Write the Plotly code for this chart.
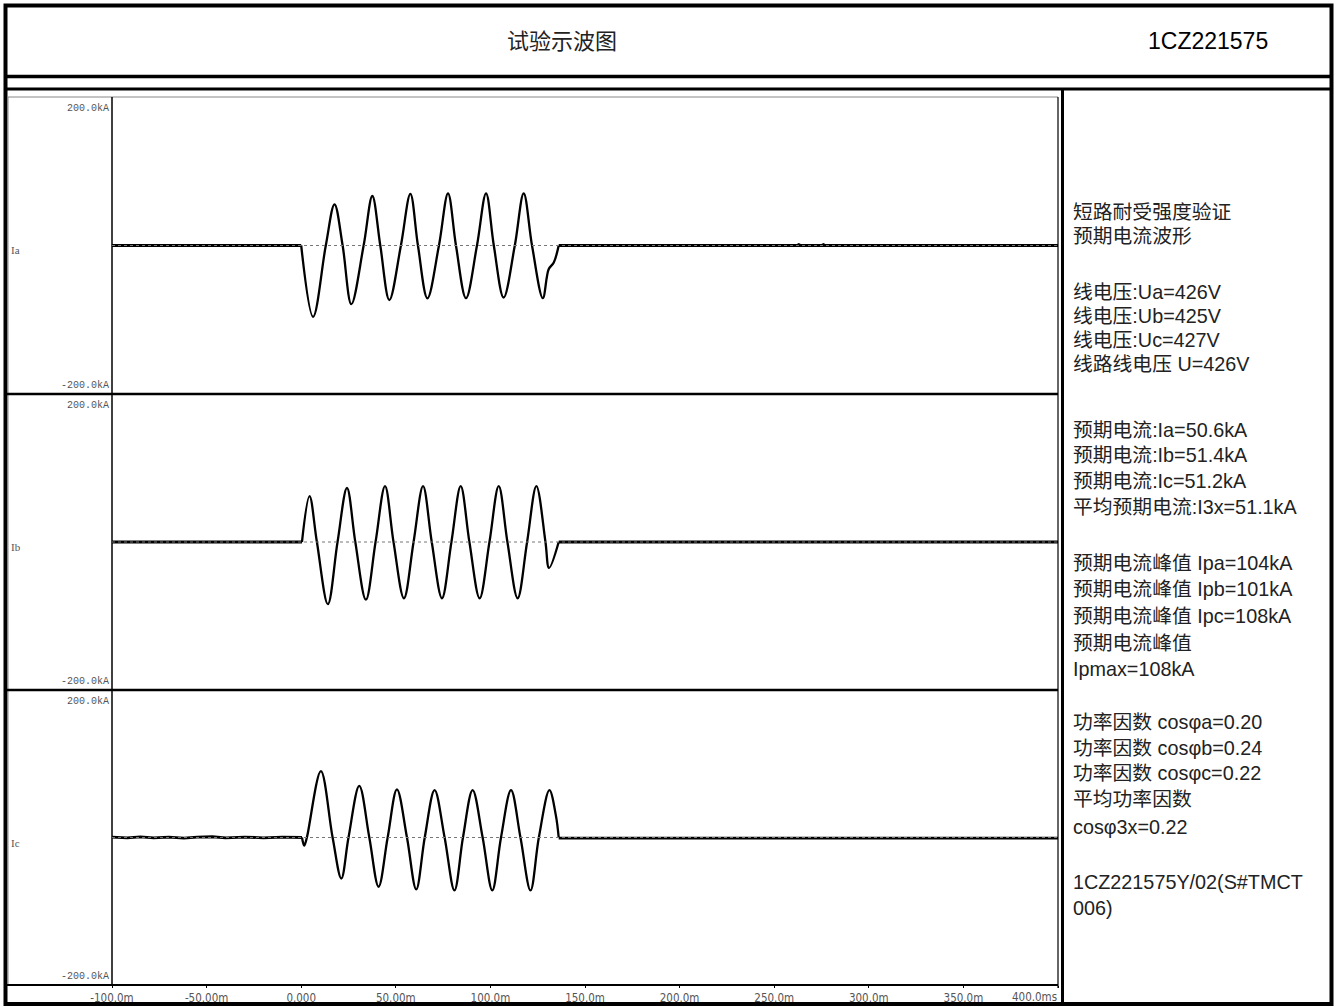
import plotly.graph_objects as go

W, H = 1336, 1007

# ---- data (time in ms, current in kA) ----
time_ticks = [-100, -50, 0, 50, 100, 150, 200, 250, 300, 350, 400]
time_tick_labels = ["-100.0m", "-50.00m", "0.000", "50.00m", "100.0m", "150.0m",
                    "200.0m", "250.0m", "300.0m", "350.0m", "400.0ms"]

phase_names = ["Ia", "Ib", "Ic"]
range_labels = ["200.0kA", "-200.0kA"]

# Ia
ia_pre_t = [-100, 0]
ia_pre_v = [0, 0]
ia_t = [0, 6.3, 13.0, 17.6, 21.9, 26.5, 33.0, 37.6, 41.8, 46.6, 52.7, 57.7, 61.7, 66.7,
        72.8, 77.6, 81.8, 87.1, 92.9, 97.7, 101.8, 107.0, 112.9, 117.6, 122.0, 127.7,
        130.8, 133.5, 136.1]
ia_v = [0, -96, 0, 55.5, 0, -79, 0, 66.7, 0, -73.4, 0, 69.4, 0, -71.1,
        0, 70.3, 0, -71.0, 0, 70.3, 0, -70.0, 0, 70.3, 0, -71.0,
        -32, -23, 0]
ia_post_t = [136.1, 262, 263, 264, 275, 276, 277, 400]
ia_post_v = [0, 0, 1.3, 0, 0, 1.3, 0, 0]

# Ib
ib_pre_t = [-100, -52, -51, -50, 0.4]
ib_pre_v = [0, 0, 0.8, 0, 0]
ib_t = [0.4, 4.4, 8.3, 14.1, 19.2, 24.2, 28.6, 34.2, 39.3, 44.3, 48.8, 54.3, 59.4, 64.4,
        69.0, 74.4, 79.4, 84.3, 88.9, 94.3, 99.5, 104.4, 109.0, 114.4, 119.4, 124.3,
        129.1, 131.0, 136.1]
ib_v = [0, 62, 0, -84, 0, 73, 0, -78, 0, 75.5, 0, -76, 0, 75.5,
        0, -76, 0, 75.5, 0, -76, 0, 75.5, 0, -76, 0, 75.5,
        0, -35, 0]
ib_post_t = [136.1, 400]
ib_post_v = [0, 0]

# Ic
ic_pre_t = [-100, -92, -85, -78, -70, -62, -55, -47, -40, -30, -20, -10, 0.4]
ic_pre_v = [0.5, -0.6, 0.8, -0.4, 0.6, -0.8, 0.4, 1.0, -0.5, 0.6, -0.4, 0.5, 0]
ic_t = [0.4, 1.6, 3.0, 10.4, 16.6, 21.2, 25.0, 30.7, 36.0, 40.9, 45.7, 50.6, 55.9, 60.8,
        65.3, 70.5, 75.8, 81.0, 85.5, 90.6, 95.9, 101.0, 105.6, 110.9, 115.9, 121.2,
        125.6, 131.2, 134.6, 136.1]
ic_v = [0, -11, 0, 90, 0, -55.6, 0, 70, 0, -66.8, 0, 65.2, 0, -70.4,
        0, 64.2, 0, -71.8, 0, 64.2, 0, -71.8, 0, 64.2, 0, -71.8,
        0, 64.2, 30, 0]
ic_post_t = [136.1, 400]
ic_post_v = [-0.8, -0.8]

info_lines = [
    "短路耐受强度验证", "预期电流波形",
    "线电压:Ua=426V", "线电压:Ub=425V", "线电压:Uc=427V", "线路线电压 U=426V",
    "预期电流:Ia=50.6kA", "预期电流:Ib=51.4kA", "预期电流:Ic=51.2kA", "平均预期电流:I3x=51.1kA",
    "预期电流峰值 Ipa=104kA", "预期电流峰值 Ipb=101kA", "预期电流峰值 Ipc=108kA", "预期电流峰值",
    "Ipmax=108kA",
    "功率因数 cosφa=0.20", "功率因数 cosφb=0.24", "功率因数 cosφc=0.22", "平均功率因数",
    "cosφ3x=0.22",
    "1CZ221575Y/02(S#TMCT", "006)",
]

# ---- layout geometry (pixels) ----
info_y = [212, 236, 292, 316, 340, 364, 430, 455, 481, 507, 563, 589, 616, 643, 669,
          722, 748, 773, 799, 827, 882, 908]
panels = [(97, 394), (394, 690), (690, 985)]
plot_left, plot_right = 112, 1058


def px(x):
    return x / W


def py(y):
    return 1 - y / H


fig = go.Figure()

series = [
    (ia_pre_t, ia_pre_v, ia_t, ia_v, ia_post_t, ia_post_v),
    (ib_pre_t, ib_pre_v, ib_t, ib_v, ib_post_t, ib_post_v),
    (ic_pre_t, ic_pre_v, ic_t, ic_v, ic_post_t, ic_post_v),
]
axis_ids = [("x2", "y"), ("x3", "y2"), ("x", "y3")]

for (pre_t, pre_v, t, v, post_t, post_v), (xa, ya) in zip(series, axis_ids):
    fig.add_trace(go.Scatter(x=pre_t, y=pre_v, mode="lines", xaxis=xa, yaxis=ya,
                             line=dict(color="black", width=2.8), hoverinfo="skip"))
    fig.add_trace(go.Scatter(x=t, y=v, mode="lines", xaxis=xa, yaxis=ya,
                             line=dict(color="black", width=2.3, shape="spline", smoothing=1.0),
                             hoverinfo="skip"))
    fig.add_trace(go.Scatter(x=post_t, y=post_v, mode="lines", xaxis=xa, yaxis=ya,
                             line=dict(color="black", width=2.8), hoverinfo="skip"))

xdom = [px(plot_left), px(plot_right)]
ydoms = [[py(b), py(t)] for t, b in panels]

hidden_x = dict(domain=xdom, range=[-100, 400], showticklabels=False, ticks="",
                showgrid=False, zeroline=False, showline=False, matches="x")
hidden_y = dict(range=[-200, 200], showticklabels=False, ticks="", showgrid=False,
                zeroline=False, showline=False)

# the last tick label sits inside the frame, so it is written separately below
axis_ticktext = time_tick_labels[:-1] + [""]

tick_font = dict(family="Liberation Sans Narrow, DejaVu Sans Condensed, Liberation Mono",
                 size=11.5, color="#555")

fig.update_layout(
    width=W, height=H,
    margin=dict(l=0, r=0, t=0, b=0, pad=0, autoexpand=False),
    paper_bgcolor="white", plot_bgcolor="rgba(0,0,0,0)",
    showlegend=False,
    xaxis=dict(domain=xdom, range=[-100, 400], anchor="y3",
               tickvals=time_ticks, ticktext=axis_ticktext,
               ticks="outside", ticklen=2, tickcolor="black", tickwidth=1,
               tickfont=tick_font,
               showgrid=False, zeroline=False, showline=False, automargin=False),
    xaxis2=dict(hidden_x, anchor="y"),
    xaxis3=dict(hidden_x, anchor="y2"),
    yaxis=dict(hidden_y, domain=ydoms[0], anchor="x2"),
    yaxis2=dict(hidden_y, domain=ydoms[1], anchor="x3"),
    yaxis3=dict(hidden_y, domain=ydoms[2], anchor="x"),
)

shapes = []


def hline(y, x0, x1, width, color="black", dash="solid"):
    shapes.append(dict(type="line", xref="paper", yref="paper", x0=px(x0), x1=px(x1),
                       y0=py(y), y1=py(y), line=dict(color=color, width=width, dash=dash)))


def vline(x, y0, y1, width, color="black"):
    shapes.append(dict(type="line", xref="paper", yref="paper", x0=px(x), x1=px(x),
                       y0=py(y0), y1=py(y1), line=dict(color=color, width=width)))


# outer frame and header rows
shapes.append(dict(type="rect", xref="paper", yref="paper", x0=px(5.5), x1=px(1331.5),
                   y0=py(1004), y1=py(5.5), line=dict(color="black", width=4)))
hline(76.5, 5, 1332, 3.5)
hline(89, 5, 1332, 3)
vline(1062.5, 89, 1004, 3)

# chart frame
hline(97, 8, 1058, 1, "#888")
vline(8, 97, 985, 1, "#888")
vline(1058, 97, 988, 1.2)
vline(plot_left, 97, 985, 1.5)
hline(394, 5, 1058, 2.5)
hline(690, 5, 1058, 2.5)
hline(985, 5, 1058, 2)

# dotted zero lines
for top, bot in panels:
    hline((top + bot) / 2, plot_left, plot_right, 1, "#777", "dot")

fig.update_layout(shapes=shapes)

annotations = []


def label(x, y, text, size, family, color="black", xanchor="left"):
    annotations.append(dict(x=px(x), y=py(y), xref="paper", yref="paper", text=text,
                            showarrow=False, xanchor=xanchor, yanchor="middle",
                            font=dict(family=family, size=size, color=color)))


label(562, 39, "试验示波图", 22, "Noto Sans CJK SC", "#222", "center")
label(1208, 41, "1CZ221575", 23, "Liberation Sans, Arial", "black", "center")

for (top, bot), name in zip(panels, phase_names):
    label(111, top + 11, range_labels[0], 10, "Liberation Mono", "#555", "right")
    label(111, bot - 9, range_labels[1], 10, "Liberation Mono", "#555", "right")
    label(9, (top + bot) / 2 + 5, name, 11, "Liberation Serif", "#555", "left")

label(1059, 996.5, time_tick_labels[-1], 11.5, tick_font["family"], "#555", "right")

for text, y in zip(info_lines, info_y):
    label(1071, y, text, 19.8, "Liberation Sans, Noto Sans CJK SC", "#222", "left")

fig.update_layout(annotations=annotations)

# the page body has a default 8px margin; drop it so the figure sits at the window origin
fig.write_html("out.html", config={"displayModeBar": False},
               post_script="document.body.style.margin='0';")
